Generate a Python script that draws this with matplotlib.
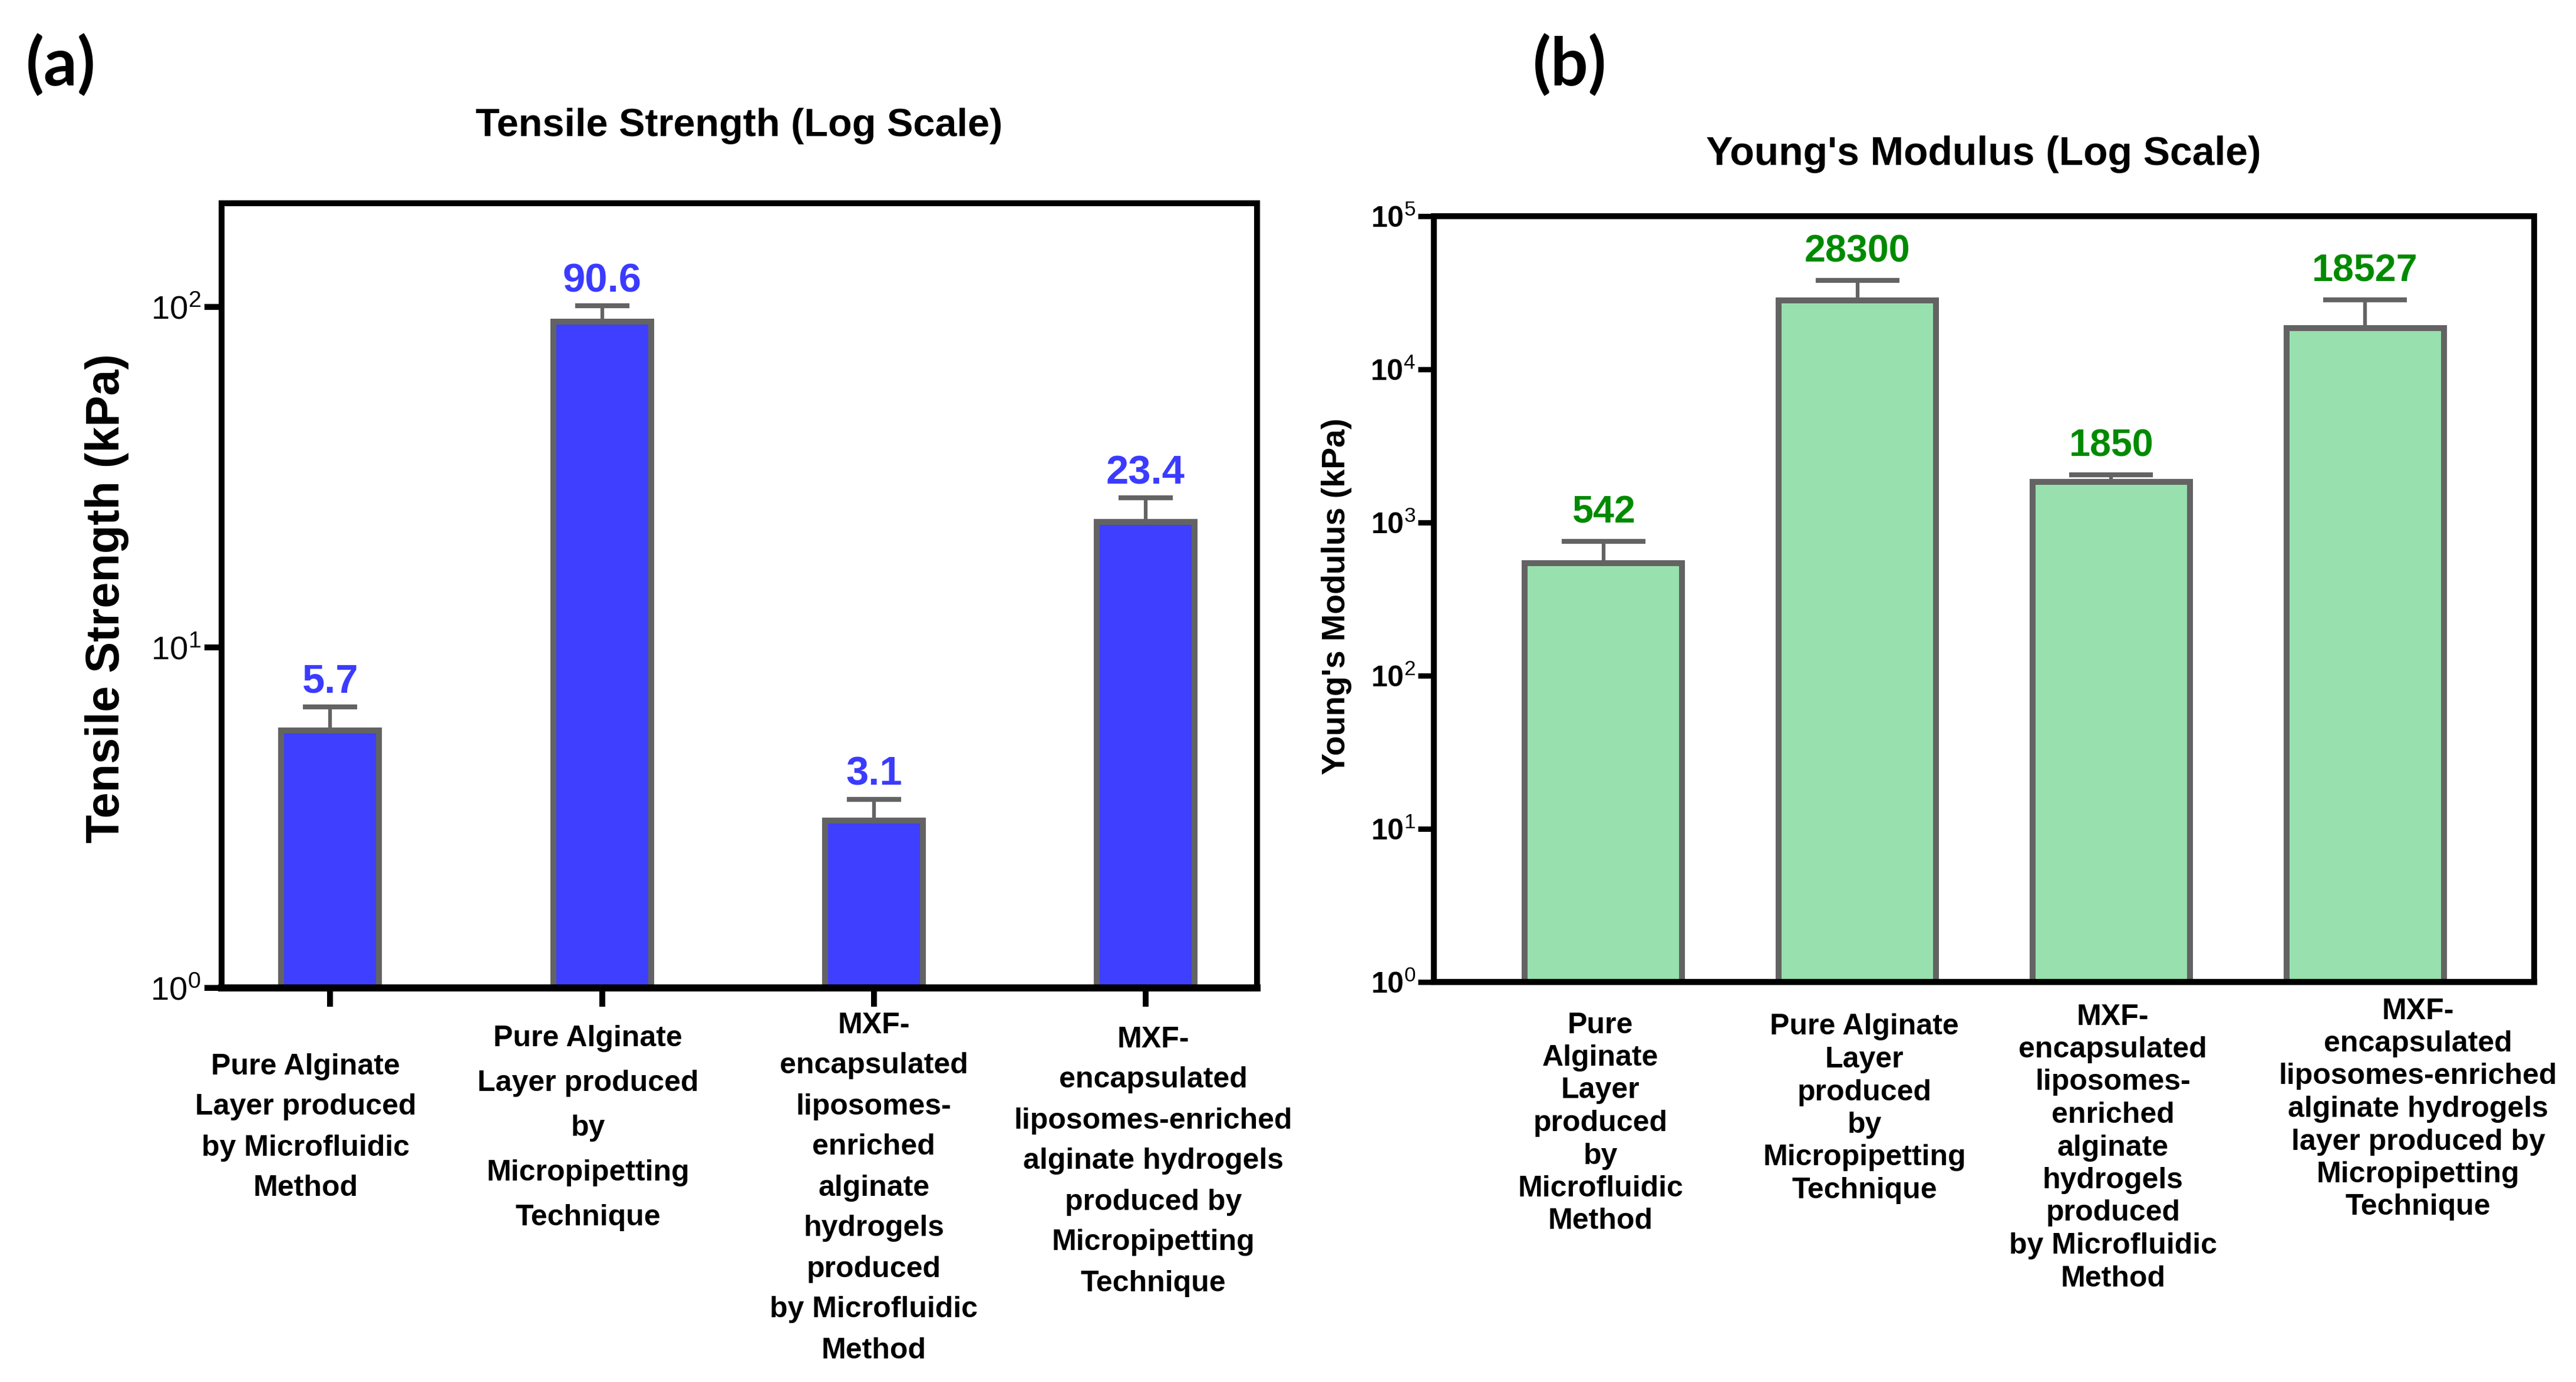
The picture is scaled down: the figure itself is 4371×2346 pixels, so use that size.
import matplotlib
matplotlib.use("Agg")
import matplotlib.pyplot as plt
import matplotlib.transforms as mtransforms
from matplotlib import font_manager as fm
from matplotlib.ticker import NullLocator, FixedLocator

# ---------------- data ----------------
tensile_categories = [
    "Pure Alginate\nLayer produced\nby Microfluidic\nMethod",
    "Pure Alginate\nLayer produced\nby\nMicropipetting\nTechnique",
    "MXF-\nencapsulated\nliposomes-\nenriched\nalginate\nhydrogels\nproduced\nby Microfluidic\nMethod",
    "MXF-\nencapsulated\nliposomes-enriched\nalginate hydrogels\nproduced by\nMicropipetting\nTechnique",
]
tensile_values = [5.7, 90.6, 3.1, 23.4]
tensile_errors = [1.0, 10.2, 0.48, 4.1]
tensile_value_labels = ["5.7", "90.6", "3.1", "23.4"]
tensile_yticks = [1, 10, 100]

modulus_categories = [
    "Pure\nAlginate\nLayer\nproduced\nby\nMicrofluidic\nMethod",
    "Pure Alginate\nLayer\nproduced\nby\nMicropipetting\nTechnique",
    "MXF-\nencapsulated\nliposomes-\nenriched\nalginate\nhydrogels\nproduced\nby Microfluidic\nMethod",
    "MXF-\nencapsulated\nliposomes-enriched\nalginate hydrogels\nlayer produced by\nMicropipetting\nTechnique",
]
modulus_values = [542, 28300, 1850, 18527]
modulus_errors = [210, 9900, 200, 10000]
modulus_value_labels = ["542", "28300", "1850", "18527"]
modulus_yticks = [1, 10, 100, 1000, 10000, 100000]

# ---------------- fonts ----------------
names = {f.name for f in fm.fontManager.ttflist}
NARROW = "Liberation Sans Narrow" if "Liberation Sans Narrow" in names else None
BASE = "Liberation Sans"
plt.rcParams["font.family"] = [BASE, "DejaVu Sans"]
plt.rcParams["mathtext.fontset"] = "custom"
plt.rcParams["mathtext.rm"] = NARROW if NARROW else BASE
plt.rcParams["mathtext.it"] = (NARROW if NARROW else BASE) + ":italic"
plt.rcParams["mathtext.bf"] = BASE + ":bold"

W, H, DPI = 4371, 2346, 300
fig = plt.figure(figsize=(W / DPI, H / DPI), dpi=DPI)

EDGE = "#636363"
BLUE = "#3F3FFF"
BLUE_TXT = "#3B3BFF"
GREEN = "#98E0AE"
GREEN_TXT = "#008A00"


def fy(px):
    return 1 - px / H


def fx(px):
    return px / W


def setup_axes(ax, lw_bottom):
    for s in ["top", "left", "right"]:
        ax.spines[s].set_linewidth(2.4)
        ax.spines[s].set_color("black")
    ax.spines["bottom"].set_linewidth(lw_bottom)
    ax.spines["bottom"].set_color("black")
    ax.yaxis.set_minor_locator(NullLocator())


def draw_category_labels(ax, xs, texts, offsets, first_px, spacings, size=12):
    trans = mtransforms.blended_transform_factory(ax.transData, fig.transFigure)
    em = size / 72 * DPI
    for x, t, off, f0, sp in zip(xs, texts, offsets, first_px, spacings):
        for i, line in enumerate(t.split("\n")):
            base = f0 + i * sp + 0.33 * em
            ax.text(x + off, fy(base), line, transform=trans, ha="center",
                    va="baseline", fontsize=size, fontweight="bold",
                    color="black", clip_on=False)


# ---------------- panel (a) ----------------
axA = fig.add_axes([fx(376), fy(1677), fx(2133) - fx(376), fy(345) - fy(1677)])
axA.set_yscale("log")
xa = list(range(len(tensile_values)))
axA.bar(xa, tensile_values, width=0.36, color=BLUE, edgecolor=EDGE,
        linewidth=2.4, zorder=2)
axA.errorbar(xa, tensile_values, yerr=[[0] * len(xa), tensile_errors],
             fmt="none", ecolor=EDGE, elinewidth=1.5, capsize=11, capthick=2,
             zorder=1)
axA.set_ylim(1, 202)
axA.set_xlim(-0.40, 3.41)
setup_axes(axA, 2.9)
axA.yaxis.set_major_locator(FixedLocator(tensile_yticks))
axA.set_yticklabels([r"$10^{%d}$" % len(str(v)[1:]) for v in tensile_yticks],
                    fontsize=14.5 if NARROW else 13.5)
axA.tick_params(axis="y", which="major", direction="out", length=7,
                width=2.4, pad=1.5)
axA.set_xticks(xa)
axA.set_xticklabels([""] * len(xa))
axA.tick_params(axis="x", direction="out", length=7.6, width=2.4)

val_font_a = dict(fontsize=19, fontweight="bold", family=NARROW) if NARROW else \
    dict(fontsize=16.5, fontweight="bold")
for x, v, e, lab in zip(xa, tensile_values, tensile_errors, tensile_value_labels):
    axA.annotate(lab, (x, v + e), xytext=(0, 5.8), textcoords="offset points",
                 ha="center", va="baseline", color=BLUE_TXT, **val_font_a)

draw_category_labels(axA, xa, tensile_categories,
                     offsets=[-0.091, -0.052, 0.0, 0.028],
                     first_px=[1807, 1760, 1737, 1761],
                     spacings=[69, 76, 69, 69])

fig.text(fx(1254), fy(231), "Tensile Strength (Log Scale)", ha="center",
         va="baseline", fontsize=16, fontweight="bold")
fig.text(fx(182), fy(1016), "Tensile Strength (kPa)", rotation=90,
         ha="center", va="center", fontsize=19, fontweight="bold")
fig.text(fx(103), fy(111), "(a)", ha="center", va="center", fontsize=27,
         fontweight="bold", family=["Lato", BASE])

# ---------------- panel (b) ----------------
axB = fig.add_axes([fx(2433), fy(1667), fx(4300) - fx(2433), fy(367) - fy(1667)])
axB.set_yscale("log")
xb = list(range(len(modulus_values)))
axB.bar(xb, modulus_values, width=0.62, color=GREEN, edgecolor=EDGE,
        linewidth=2.4, zorder=2)
axB.errorbar(xb, modulus_values, yerr=[[0] * len(xb), modulus_errors],
             fmt="none", ecolor=EDGE, elinewidth=1.5, capsize=17, capthick=2,
             zorder=1)
axB.set_ylim(1, 1e5)
axB.set_xlim(-0.668, 3.666)
setup_axes(axB, 2.5)
axB.yaxis.set_major_locator(FixedLocator(modulus_yticks))
axB.set_yticklabels([r"$\mathbf{10}^{\mathrm{%d}}$" % len(str(v)[1:])
                     for v in modulus_yticks], fontsize=12)
axB.tick_params(axis="y", which="major", direction="out", length=6.5,
                width=2.2, pad=1.0)
axB.set_xticks(xb)
axB.set_xticklabels([""] * len(xb))
axB.tick_params(axis="x", length=0)

for x, v, e, lab in zip(xb, modulus_values, modulus_errors, modulus_value_labels):
    axB.annotate(lab, (x, v + e), xytext=(0, 7.5), textcoords="offset points",
                 ha="center", va="baseline", color=GREEN_TXT, fontsize=15.5,
                 fontweight="bold")

draw_category_labels(axB, xb, modulus_categories,
                     offsets=[-0.012, 0.028, 0.007, 0.209],
                     first_px=[1737, 1740, 1723, 1713],
                     spacings=[55.5, 55.5, 55.5, 55.5])

fig.text(fx(3366), fy(280), "Young's Modulus (Log Scale)", ha="center",
         va="baseline", fontsize=16.3, fontweight="bold")
fig.text(fx(2268), fy(1012), "Young's Modulus (kPa)", rotation=90,
         ha="center", va="center", fontsize=13.3, fontweight="bold")
fig.text(fx(2664), fy(111), "(b)", ha="center", va="center", fontsize=27,
         fontweight="bold", family=["Lato", BASE])

fig.savefig("out.png", dpi=DPI, facecolor="white")
